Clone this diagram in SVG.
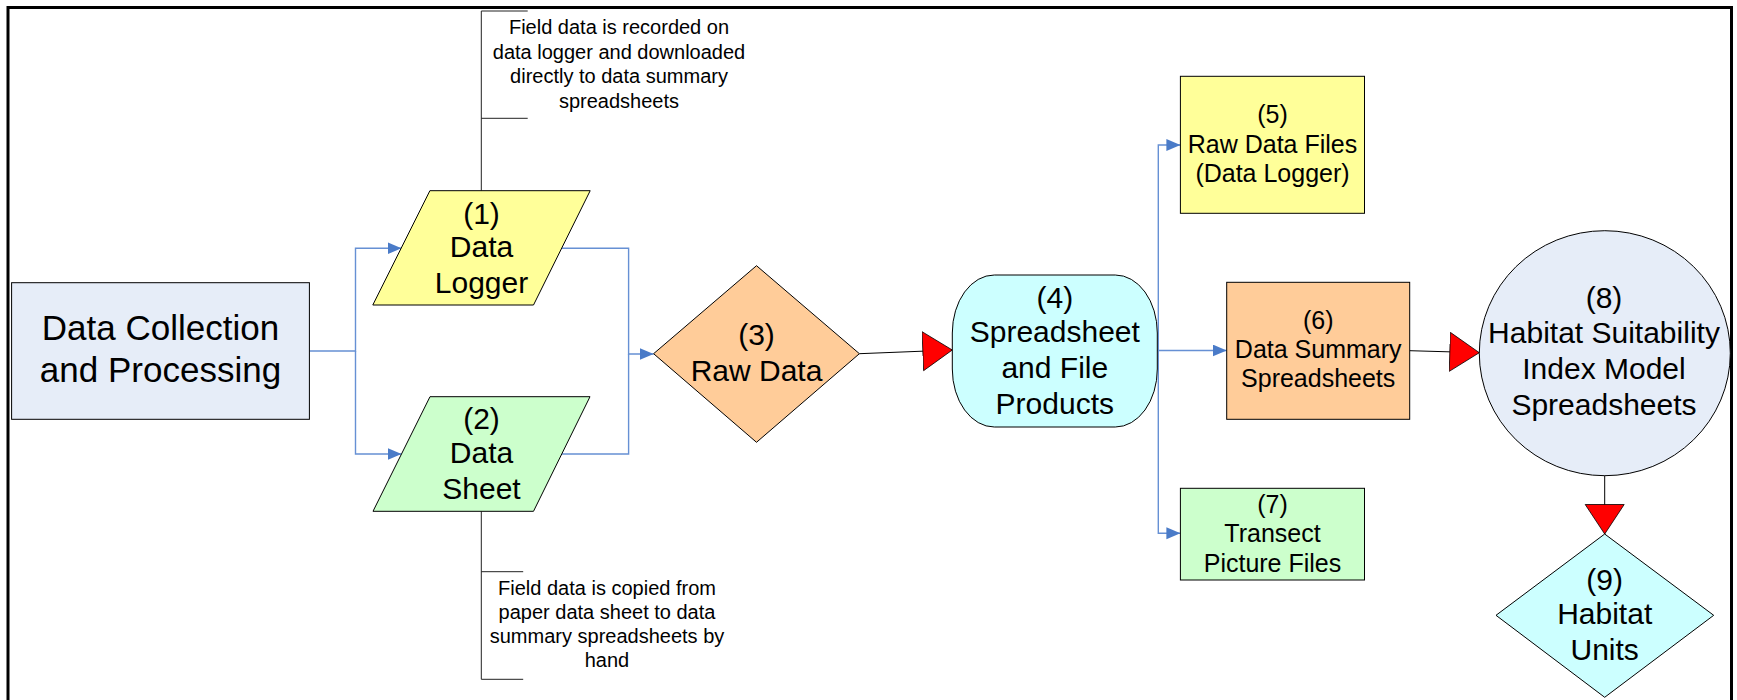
<svg xmlns="http://www.w3.org/2000/svg" width="1737" height="700" viewBox="0 0 1737 700">
<style>
  text { font-family: "Liberation Sans", Arial, sans-serif; fill: #000; text-anchor: middle; }
  .t35 { font-size: 35px; }
  .t30 { font-size: 30px; }
  .t25 { font-size: 25px; }
  .t20 { font-size: 20px; }
  .shape { stroke: #000; stroke-width: 1; }
  .blue { fill: none; stroke: #6690D4; stroke-width: 1.4; }
  .black { fill: none; stroke: #000; stroke-width: 1; }
  .callout { fill: none; stroke: #222; stroke-width: 1; }
</style>
<defs>
  <marker id="blueArrow" markerUnits="userSpaceOnUse" markerWidth="15" markerHeight="13" refX="14" refY="6" orient="auto">
    <path d="M0,0 L14,6 L0,12 Z" fill="#4A7BC8"/>
  </marker>
  <marker id="redArrow" markerUnits="userSpaceOnUse" markerWidth="32" markerHeight="42" refX="30" refY="20" orient="auto">
    <path d="M0.5,0.5 L30,20 L0.5,39.5 Z" fill="#FF0000" stroke="#000" stroke-width="0.8"/>
  </marker>
</defs>
<rect width="1737" height="700" fill="#fff"/>
<rect x="8" y="7.5" width="1723.5" height="720" fill="none" stroke="#000" stroke-width="3"/>

<g id="connectors">
  <path class="blue" d="M309.5,351 H355.5 V248.3 H401.5" marker-end="url(#blueArrow)"/>
  <path class="blue" d="M355.5,351 V454 H401.5" marker-end="url(#blueArrow)"/>
  <path class="blue" d="M561.5,248.3 H628.6 V354 H653.6" marker-end="url(#blueArrow)"/>
  <path class="blue" d="M561.7,454 H628.6 V354"/>
  <path class="black" d="M859.4,353.7 L952.3,350" marker-end="url(#redArrow)"/>
  <path class="blue" d="M1157.3,350.5 H1226.7" marker-end="url(#blueArrow)"/>
  <path class="blue" d="M1158.3,350.5 V145 H1180.4" marker-end="url(#blueArrow)"/>
  <path class="blue" d="M1158.3,350.5 V533.3 H1180.4" marker-end="url(#blueArrow)"/>
  <path class="black" d="M1409.7,350.7 L1479.3,352.7" marker-end="url(#redArrow)"/>
  <path class="black" d="M1604.7,475.7 V534" marker-end="url(#redArrow)"/>
  <path class="callout" d="M527.7,11 H481.3 V190.7 M481.3,118.3 H527.7"/>
  <path class="callout" d="M481.3,511.3 V679.3 H523.2 M481.3,571.7 H523.2"/>
</g>

<g id="note1">
  <text class="t20" x="619" y="34">Field data is recorded on</text>
  <text class="t20" x="619" y="58.5">data logger and downloaded</text>
  <text class="t20" x="619" y="83">directly to data summary</text>
  <text class="t20" x="619" y="107.5">spreadsheets</text>
</g>
<g id="note2">
  <text class="t20" x="607" y="595">Field data is copied from</text>
  <text class="t20" x="607" y="619">paper data sheet to data</text>
  <text class="t20" x="607" y="643">summary spreadsheets by</text>
  <text class="t20" x="607" y="667">hand</text>
</g>

<g id="node0">
  <rect class="shape" x="11.6" y="282.7" width="297.8" height="136.6" fill="#E6EDF8"/>
  <text class="t35" x="160.5" y="340">Data Collection</text>
  <text class="t35" x="160.5" y="381.7">and Processing</text>
</g>
<g id="node1">
  <polygon class="shape" points="429.9,190.7 590.2,190.7 533.5,305 372.8,305" fill="#FFFF99"/>
  <text class="t30" x="481.5" y="224">(1)</text>
  <text class="t30" x="481.5" y="257">Data</text>
  <text class="t30" x="481.5" y="293">Logger</text>
</g>
<g id="node2">
  <polygon class="shape" points="430,396.7 590,396.7 533.5,511.3 373,511.3" fill="#CCFFCC"/>
  <text class="t30" x="481.5" y="429">(2)</text>
  <text class="t30" x="481.5" y="463">Data</text>
  <text class="t30" x="481.5" y="499">Sheet</text>
</g>
<g id="node3">
  <polygon class="shape" points="756.5,265.7 859.4,353.7 756.5,442.3 653.6,353.7" fill="#FFCC99"/>
  <text class="t30" x="756.5" y="345">(3)</text>
  <text class="t30" x="756.5" y="380.7">Raw Data</text>
</g>
<g id="node4">
  <rect class="shape" x="952.3" y="275" width="205" height="152" rx="42" ry="58" fill="#CCFFFF"/>
  <text class="t30" x="1054.8" y="307.5">(4)</text>
  <text class="t30" x="1054.8" y="342">Spreadsheet</text>
  <text class="t30" x="1054.8" y="378">and File</text>
  <text class="t30" x="1054.8" y="414">Products</text>
</g>
<g id="node5">
  <rect class="shape" x="1180.4" y="76.3" width="184.1" height="137" fill="#FFFF99"/>
  <text class="t25" x="1272.5" y="123.3">(5)</text>
  <text class="t25" x="1272.5" y="152.7">Raw Data Files</text>
  <text class="t25" x="1272.5" y="181.7">(Data Logger)</text>
</g>
<g id="node6">
  <rect class="shape" x="1226.7" y="282.3" width="183" height="137" fill="#FFCC99"/>
  <text class="t25" x="1318.2" y="329.3">(6)</text>
  <text class="t25" x="1318.2" y="358.3">Data Summary</text>
  <text class="t25" x="1318.2" y="387.3">Spreadsheets</text>
</g>
<g id="node7">
  <rect class="shape" x="1180.4" y="488.3" width="184.1" height="91.7" fill="#CCFFCC"/>
  <text class="t25" x="1272.5" y="512.7">(7)</text>
  <text class="t25" x="1272.5" y="541.7">Transect</text>
  <text class="t25" x="1272.5" y="571.7">Picture Files</text>
</g>
<g id="node8">
  <ellipse class="shape" cx="1604.8" cy="353.2" rx="125.5" ry="122.5" fill="#E6EDF8"/>
  <text class="t30" x="1604" y="307.5">(8)</text>
  <text class="t30" x="1604" y="343">Habitat Suitability</text>
  <text class="t30" x="1604" y="379">Index Model</text>
  <text class="t30" x="1604" y="415">Spreadsheets</text>
</g>
<g id="node9">
  <polygon class="shape" points="1604.7,534 1713.7,615.3 1604.7,697.3 1496,615.3" fill="#CCFFFF"/>
  <text class="t30" x="1604.7" y="590">(9)</text>
  <text class="t30" x="1604.7" y="624">Habitat</text>
  <text class="t30" x="1604.7" y="660">Units</text>
</g>
</svg>
